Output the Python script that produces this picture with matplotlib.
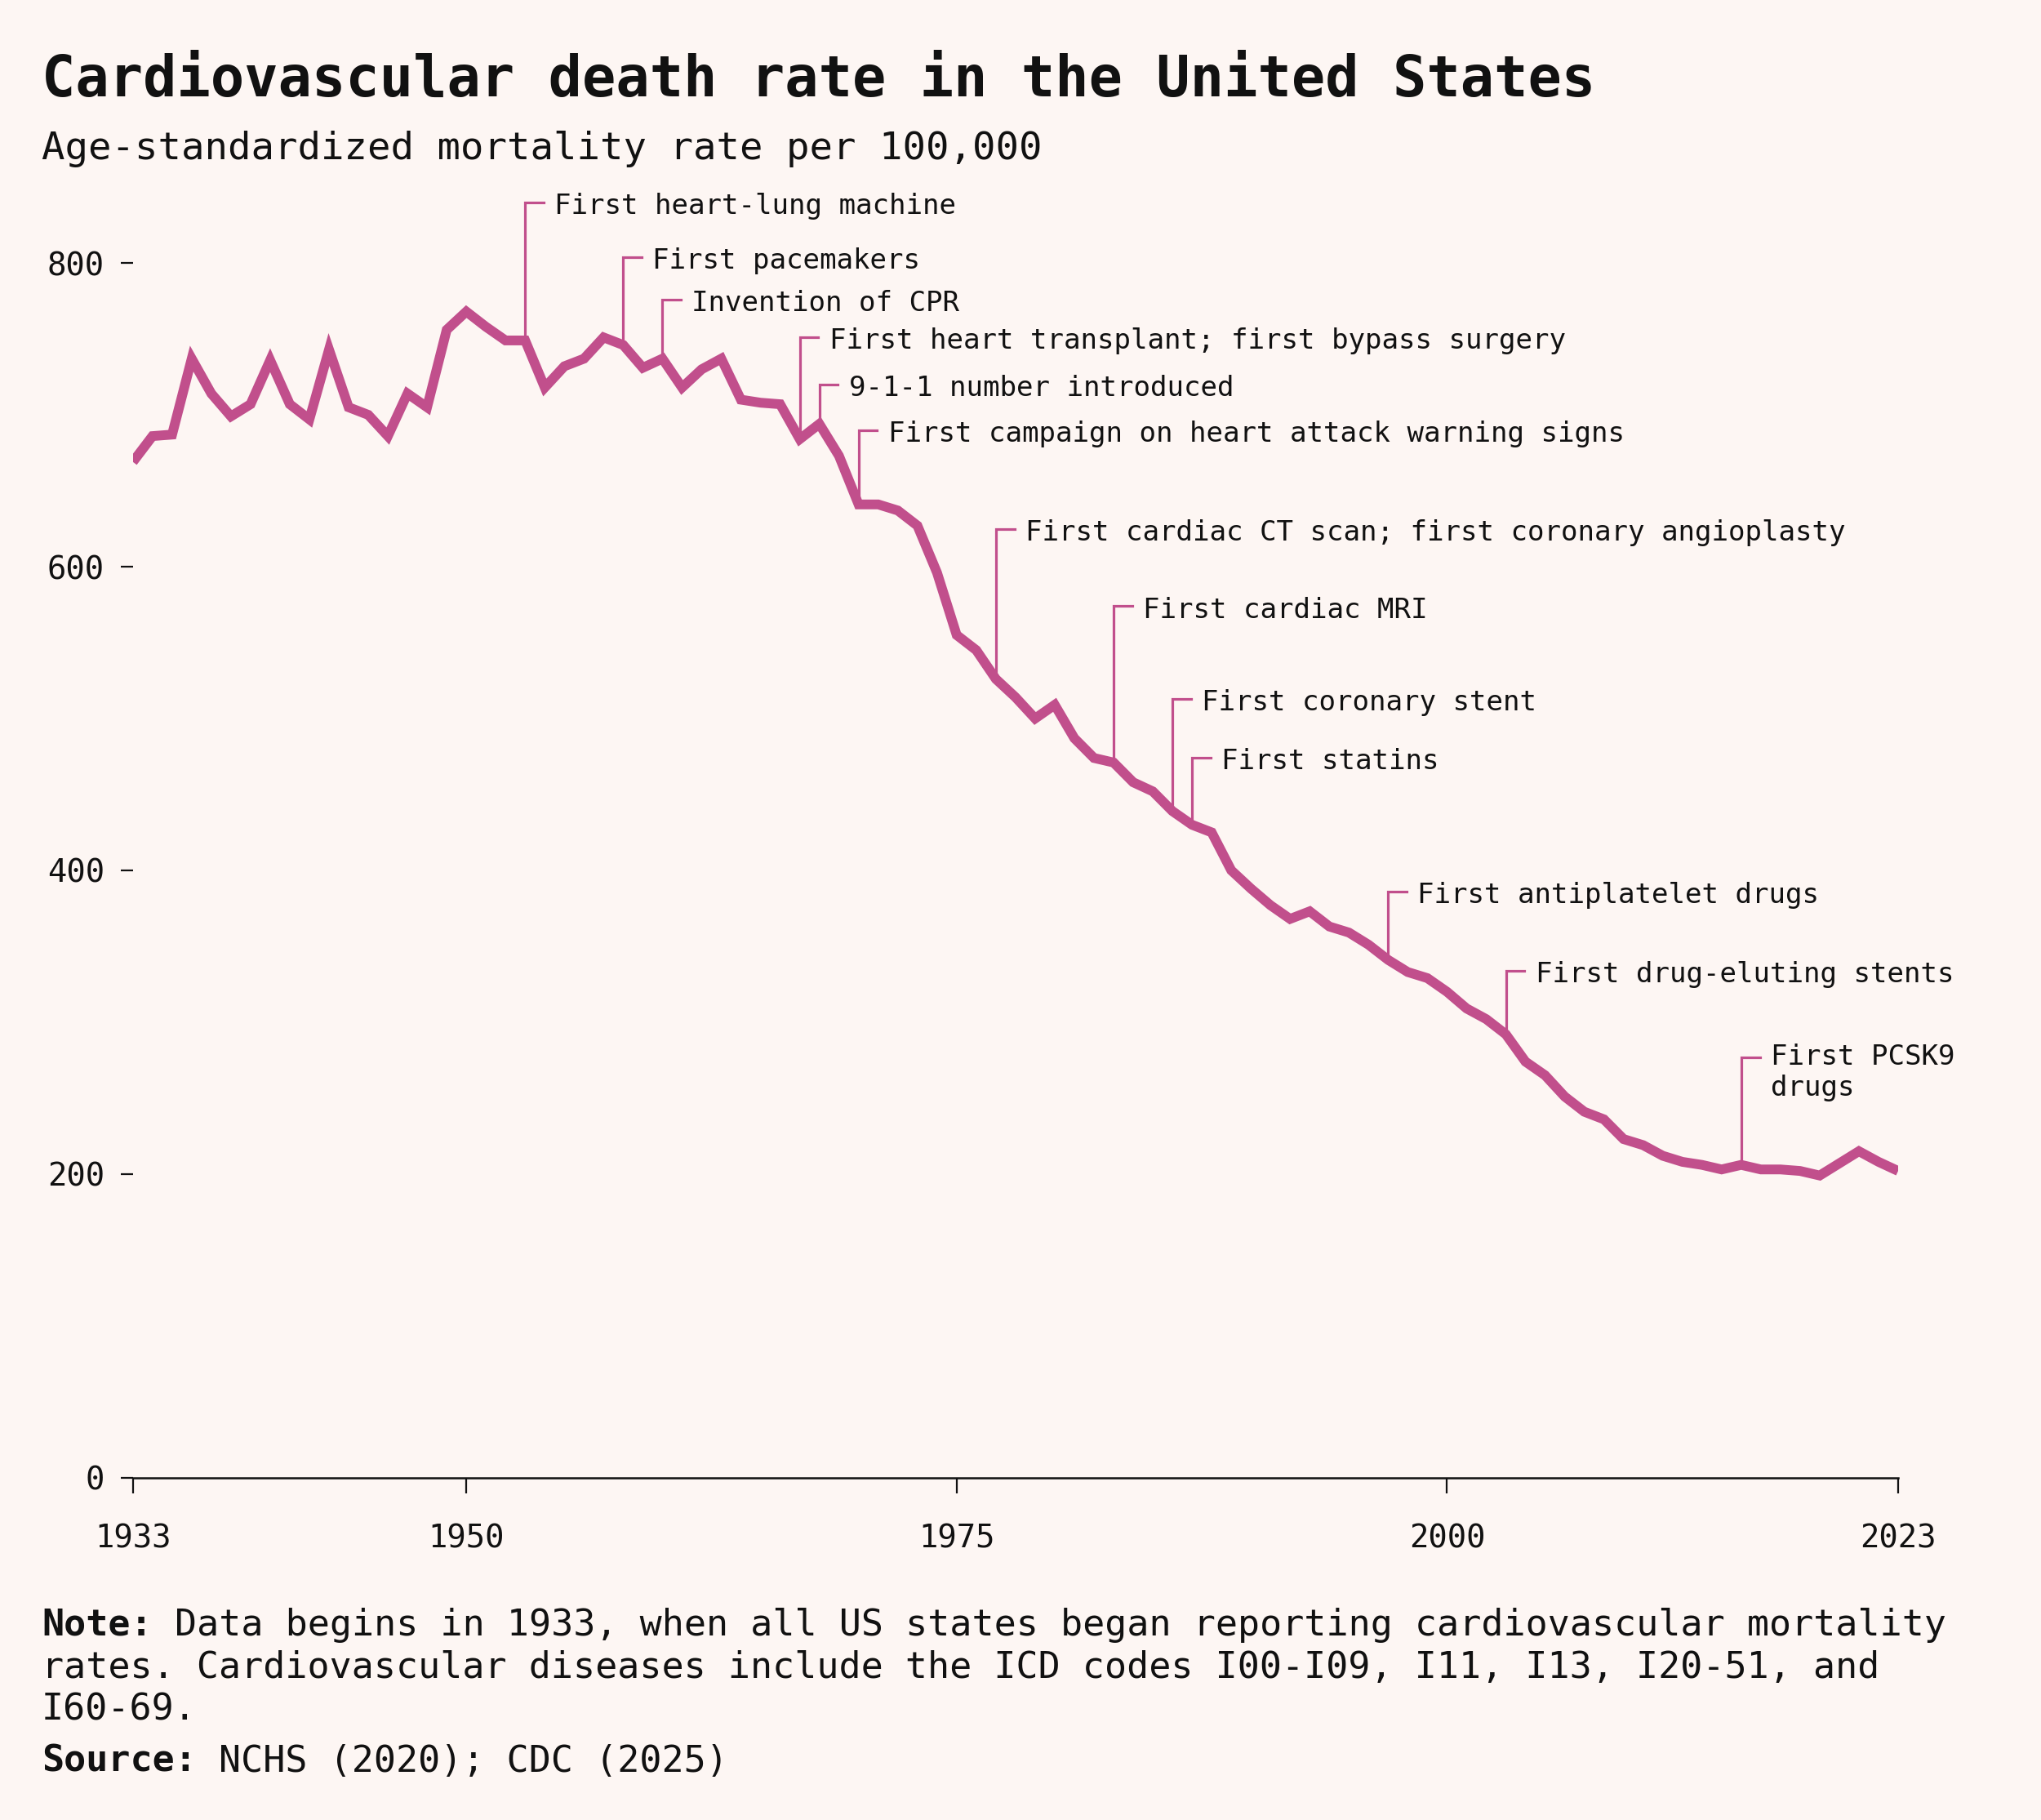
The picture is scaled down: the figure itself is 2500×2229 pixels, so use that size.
import matplotlib
matplotlib.use("Agg")
import matplotlib.pyplot as plt

# age-standardized cardiovascular mortality per 100,000
years = list(range(1933, 2024))
rate = [669, 686, 687, 737, 714, 699, 707, 736, 707, 697,
        743, 705, 700, 686, 714, 705, 756, 768, 758, 749,
        749, 718, 732, 737, 751, 746, 731, 737, 718, 730,
        737, 710, 708, 707, 684, 694, 673, 641, 641, 637,
        627, 596, 555, 545, 526, 514, 500, 509, 487, 474,
        471, 458, 452, 439, 430, 425, 400, 388, 377, 368,
        373, 363, 359, 351, 341, 333, 329, 320, 309, 302,
        292, 274, 265, 251, 241, 236, 223, 219, 212, 208,
        206, 203, 206, 203, 203, 202, 199, 207, 215, 208,
        202]

# milestones: year, height of the label, text
ann_years = [1953, 1958, 1960, 1967, 1968, 1970, 1977, 1983, 1986, 1987, 1997, 2003, 2015]
ann_levels = [840, 804, 776, 751, 720, 690, 625, 574, 513, 474, 386, 334, 277]
ann_texts = ["First heart-lung machine",
             "First pacemakers",
             "Invention of CPR",
             "First heart transplant; first bypass surgery",
             "9-1-1 number introduced",
             "First campaign on heart attack warning signs",
             "First cardiac CT scan; first coronary angioplasty",
             "First cardiac MRI",
             "First coronary stent",
             "First statins",
             "First antiplatelet drugs",
             "First drug-eluting stents",
             "First PCSK9\ndrugs"]

xticks = [1933, 1950, 1975, 2000, 2023]
yticks = [0, 200, 400, 600, 800]

note_lines = ["Data begins in 1933, when all US states began reporting cardiovascular mortality",
              "rates. Cardiovascular diseases include the ICD codes I00-I09, I11, I13, I20-51, and",
              "I60-69."]
source_text = "NCHS (2020); CDC (2025)"

bg = "#fdf6f3"
pink = "#c14f8c"
ink = "#111111"
mono = "DejaVu Sans Mono"

plt.rcParams['font.family'] = mono

fig = plt.figure(figsize=(25, 22.29), dpi=100, facecolor=bg)
ax = fig.add_axes([0.0651, 0.1881, 0.8649, 0.7091])
ax.set_facecolor(bg)

ax.plot(years, rate, color=pink, lw=8.6, solid_joinstyle='miter', solid_capstyle='butt', zorder=3)

val = dict(zip(years, rate))
for yr, lev, txt in zip(ann_years, ann_levels, ann_texts):
    ax.plot([yr, yr, yr + 0.95], [val[yr], lev, lev], color=pink, lw=2.3,
            solid_joinstyle='miter', clip_on=False, zorder=2)
    if "\n" in txt:
        ax.text(yr + 1.5, lev + 9, txt, fontsize=24.6, color=ink, va='top',
                ha='left', linespacing=1.2, clip_on=False)
    else:
        ax.text(yr + 1.5, lev - 2.5, txt, fontsize=24.6, color=ink, va='center',
                ha='left', clip_on=False)

ax.set_xlim(1933, 2023)
ax.set_ylim(0, 850)
ax.set_xticks(xticks)
ax.set_yticks(yticks)
ax.tick_params(axis='x', direction='out', length=14, width=1.6, pad=26,
               labelsize=28, colors=ink)
ax.tick_params(axis='y', direction='out', length=11, width=1.6, pad=14,
               labelsize=28, colors=ink)
for s in ['top', 'right', 'left']:
    ax.spines[s].set_visible(False)
ax.spines['bottom'].set_bounds(1933, 2023)
ax.spines['bottom'].set_linewidth(1.8)
ax.spines['bottom'].set_color(ink)

fig.text(0.0204, 0.947, "Cardiovascular death rate in the United States",
         fontsize=49.4, fontweight='bold', color=ink, va='baseline', ha='left')
fig.text(0.0204, 0.9127, "Age-standardized mortality rate per 100,000",
         fontsize=34, color=ink, va='baseline', ha='left')

# note and source: bold lead word, then plain text one monospace cell further on
fs_note = 32.4
cell = 0.602 * fs_note / 72 * 100 / 2500  # width of one character as a figure fraction
left = 0.0204
note_ys = [0.1016, 0.0780, 0.0551]
fig.text(left, note_ys[0], "Note:", fontsize=fs_note, fontweight='bold', color=ink,
         va='baseline', ha='left')
fig.text(left + 6 * cell, note_ys[0], note_lines[0], fontsize=fs_note, color=ink,
         va='baseline', ha='left')
for ny, line in zip(note_ys[1:], note_lines[1:]):
    fig.text(left, ny, line, fontsize=fs_note, color=ink, va='baseline', ha='left')
fig.text(left, 0.0265, "Source:", fontsize=fs_note, fontweight='bold', color=ink,
         va='baseline', ha='left')
fig.text(left + 8 * cell, 0.0265, source_text, fontsize=fs_note, color=ink,
         va='baseline', ha='left')

fig.savefig("out.png", dpi=100, facecolor=bg)
